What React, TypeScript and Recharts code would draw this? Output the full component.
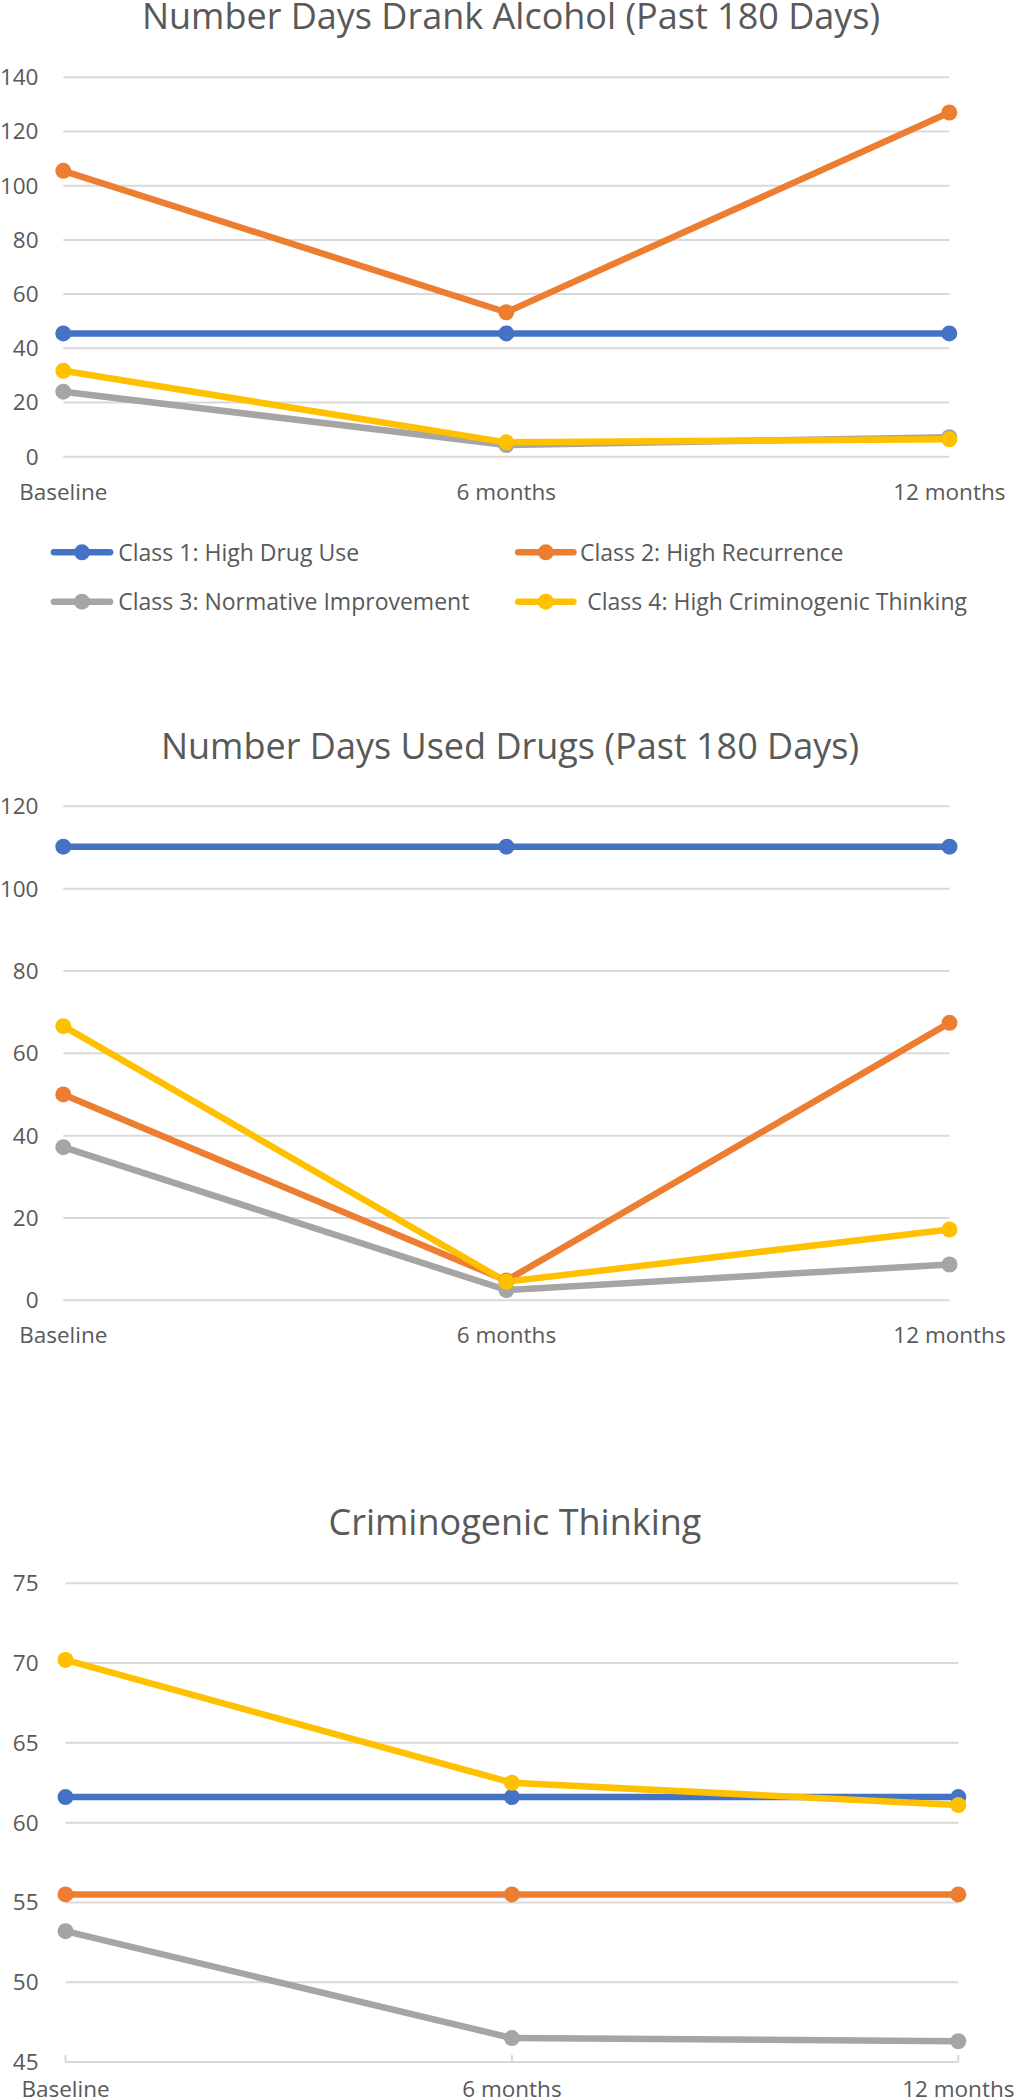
import React from 'react';
import { LineChart, Line, XAxis, YAxis, CartesianGrid } from 'recharts';

const categories = ['Baseline', '6 months', '12 months'];
const seriesNames = [
  'Class 1: High Drug Use',
  'Class 2: High Recurrence',
  'Class 3: Normative Improvement',
  'Class 4: High Criminogenic Thinking',
];
const seriesColors = ['#4472C4', '#ED7D31', '#A5A5A5', '#FFC000'];

// Chart 1: Number Days Drank Alcohol (Past 180 Days)
const alcoholClass1 = [45.5, 45.5, 45.5];
const alcoholClass2 = [105.5, 53.3, 127.0];
const alcoholClass3 = [24.0, 4.3, 7.2];
const alcoholClass4 = [31.7, 5.3, 6.4];
const alcoholTicks = [0, 20, 40, 60, 80, 100, 120, 140];

// Chart 2: Number Days Used Drugs (Past 180 Days)
const drugClass1 = [110.2, 110.2, 110.2];
const drugClass2 = [50.0, 4.8, 67.4];
const drugClass3 = [37.2, 2.5, 8.7];
const drugClass4 = [66.6, 4.5, 17.2];
const drugTicks = [0, 20, 40, 60, 80, 100, 120];

// Chart 3: Criminogenic Thinking
const thinkingClass1 = [61.6, 61.6, 61.6];
const thinkingClass2 = [55.5, 55.5, 55.5];
const thinkingClass3 = [53.2, 46.5, 46.3];
const thinkingClass4 = [70.2, 62.5, 61.1];
const thinkingTicks = [45, 50, 55, 60, 65, 70, 75];

const titles = [
  'Number Days Drank Alcohol (Past 180 Days)',
  'Number Days Used Drugs (Past 180 Days)',
  'Criminogenic Thinking',
];

const FONT = "'Open Sans', 'Noto Sans', sans-serif";
const TEXT = '#595959';
const GRID = '#D9D9D9';

const buildRows = (series: number[][]) =>
  categories.map((c, i) => {
    const row: Record<string, number | string> = { category: c };
    series.forEach((s, k) => {
      row['s' + k] = s[i];
    });
    return row;
  });

type ChartLayout = {
  top: number;
  height: number;
  plotTop: number;
  plotBottom: number;
  plotLeft: number;
  plotRight: number;
  labelMargin: number;
  tickUp: number;
  titleX: number;
  titleY: number;
};

const charts = [
  {
    title: titles[0],
    rows: buildRows([alcoholClass1, alcoholClass2, alcoholClass3, alcoholClass4]),
    ticks: alcoholTicks,
    layout: {
      top: 0, height: 520, plotTop: 77.3, plotBottom: 456.7, plotLeft: 63.3, plotRight: 949.3,
      labelMargin: 27, tickUp: 0, titleX: 511, titleY: 29.3,
    } as ChartLayout,
  },
  {
    title: titles[1],
    rows: buildRows([drugClass1, drugClass2, drugClass3, drugClass4]),
    ticks: drugTicks,
    layout: {
      top: 700, height: 660, plotTop: 806.3, plotBottom: 1300.3, plotLeft: 63.3, plotRight: 949.5,
      labelMargin: 27, tickUp: 0, titleX: 510, titleY: 759,
    } as ChartLayout,
  },
  {
    title: titles[2],
    rows: buildRows([thinkingClass1, thinkingClass2, thinkingClass3, thinkingClass4]),
    ticks: thinkingTicks,
    layout: {
      top: 1450, height: 650, plotTop: 1583.3, plotBottom: 2062, plotLeft: 65.5, plotRight: 958.3,
      labelMargin: 19.5, tickUp: 7, titleX: 515, titleY: 1535,
    } as ChartLayout,
  },
];

const legendLayout = [
  { x1: 50.7, x2: 113.3, cy: 552.3, tx: 118.3, ty: 560.7 },
  { x1: 515, x2: 576.7, cy: 552.3, tx: 580, ty: 560.7 },
  { x1: 50.7, x2: 113.3, cy: 601.7, tx: 118.3, ty: 610 },
  { x1: 515, x2: 576.7, cy: 601.7, tx: 587.3, ty: 610 },
];

const LINE_W = 6.5;
const DOT_R = 8;
const TICK_FONT = 22.5;

function makeXTick(margin: number, tickUp: number) {
  return (props: any) => {
    const { x, y, payload } = props;
    const axisY = y - margin;
    return (
      <g>
        {tickUp > 0 ? (
          <line x1={x} x2={x} y1={axisY} y2={axisY - tickUp} stroke={GRID} strokeWidth={2} />
        ) : null}
        <text
          x={x}
          y={y}
          dy="0.71em"
          textAnchor="middle"
          fill={TEXT}
          fontSize={TICK_FONT}
          fontFamily={FONT}
        >
          {payload.value}
        </text>
      </g>
    );
  };
}

function OneChart({ rows, ticks, layout }: { rows: any[]; ticks: number[]; layout: ChartLayout }) {
  const L = layout;
  const xAxisH = L.height - (L.plotBottom - L.top);
  return (
    <div style={{ position: 'absolute', left: 0, top: L.top, width: 1016, height: L.height }}>
      <LineChart
        width={1016}
        height={L.height}
        data={rows}
        margin={{ top: L.plotTop - L.top, right: 1016 - L.plotRight, bottom: 0, left: 0 }}
      >
        <CartesianGrid horizontal vertical={false} stroke={GRID} strokeWidth={2} />
        <XAxis
          dataKey="category"
          interval={0}
          height={xAxisH}
          axisLine={L.tickUp > 0 ? { stroke: GRID, strokeWidth: 2 } : false}
          tickLine={false}
          tickSize={0}
          tickMargin={L.labelMargin}
          tick={makeXTick(L.labelMargin, L.tickUp)}
        />
        <YAxis
          type="number"
          domain={[ticks[0], ticks[ticks.length - 1]]}
          ticks={ticks}
          interval={0}
          width={L.plotLeft}
          axisLine={false}
          tickLine={false}
          tickSize={0}
          tickMargin={L.plotLeft - 38.5}
          tick={{ fill: TEXT, fontSize: TICK_FONT, fontFamily: FONT }}
        />
        {seriesColors.map((c, k) => (
          <Line
            key={k}
            type="linear"
            dataKey={'s' + k}
            name={seriesNames[k]}
            stroke={c}
            strokeWidth={LINE_W}
            strokeLinejoin="round"
            strokeLinecap="round"
            dot={{ r: DOT_R, fill: c, stroke: c, strokeWidth: 0 }}
            activeDot={false}
            isAnimationActive={false}
          />
        ))}
      </LineChart>
    </div>
  );
}

export default function App() {
  return (
    <div
      style={{
        position: 'absolute',
        left: 0,
        top: 0,
        width: 1016,
        height: 2100,
        background: '#ffffff',
        overflow: 'hidden',
        fontFamily: FONT,
      }}
    >
      {charts.map((ch, i) => (
        <OneChart key={i} rows={ch.rows} ticks={ch.ticks} layout={ch.layout} />
      ))}
      <svg
        width={1016}
        height={2100}
        style={{ position: 'absolute', left: 0, top: 0, pointerEvents: 'none' }}
      >
        {charts.map((ch, i) => (
          <text
            key={'t' + i}
            x={ch.layout.titleX}
            y={ch.layout.titleY}
            textAnchor="middle"
            fill={TEXT}
            fontSize={36}
            fontFamily={FONT}
          >
            {ch.title}
          </text>
        ))}
        {seriesNames.map((name, k) => {
          const g = legendLayout[k];
          return (
            <g key={'l' + k}>
              <line
                x1={g.x1 + LINE_W / 2}
                x2={g.x2 - LINE_W / 2}
                y1={g.cy}
                y2={g.cy}
                stroke={seriesColors[k]}
                strokeWidth={LINE_W}
                strokeLinecap="round"
              />
              <circle cx={(g.x1 + g.x2) / 2} cy={g.cy} r={DOT_R} fill={seriesColors[k]} />
              <text x={g.tx} y={g.ty} fill={TEXT} fontSize={23} fontFamily={FONT}>
                {name}
              </text>
            </g>
          );
        })}
      </svg>
    </div>
  );
}
